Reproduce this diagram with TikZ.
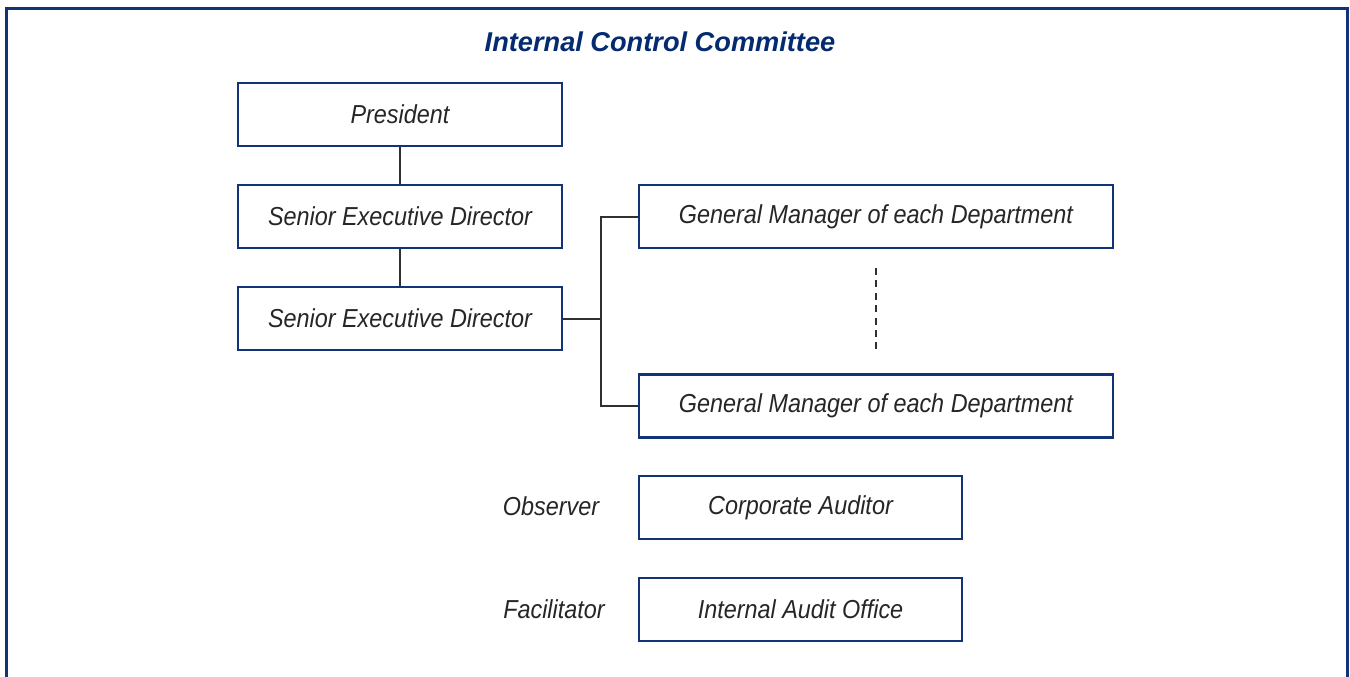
\documentclass[tikz,border=0pt]{standalone}
\usepackage{fontspec}
\setmainfont{Liberation Sans}[FakeStretch=0.9]
\newfontfamily\titlefont{Liberation Sans}
\usepackage{tikz}
\usetikzlibrary{positioning}
\definecolor{navy}{RGB}{18,52,118}
\definecolor{titleblue}{RGB}{4,42,112}
\definecolor{ink}{RGB}{38,38,40}
\definecolor{wire}{RGB}{48,48,50}

\begin{document}
\begin{tikzpicture}[x=0.5pt, y=-0.5pt,
    frame/.style={draw=navy, line width=1.5pt},
    post/.style={draw=navy, line width=1.2pt, fill=white, font=\fontsize{13}{15}\selectfont\itshape,
                 text=ink, minimum width=162pt, minimum height=31.5pt, inner sep=0pt},
    postw/.style={post, minimum width=237pt},
    role/.style={font=\fontsize{13}{15}\selectfont\itshape, text=ink},
    head/.style={font=\titlefont\fontsize{13.6}{16}\selectfont\bfseries\itshape, text=titleblue},
    link/.style={draw=wire, line width=1pt},
    gap/.style={draw=wire, line width=1pt, dash pattern=on 3.5pt off 2.7pt}
  ]
  \useasboundingbox (0,0) rectangle (1350,676);
  \draw[frame] (6.5,700) -- (6.5,8.5) -- (1347.5,8.5) -- (1347.5,700);
  \node[head] (title) at (660,42) {Internal Control Committee};

  \def\ya{114.5} \def\yb{216.5} \def\yc{318.5} \def\yd{406} \def\ye{507.5} \def\yf{609.5}
  \node[post] (pres) at (400,\ya) {President};
  \node[post] (sed1) at (400,\yb) {Senior Executive Director};
  \node[post] (sed2) at (400,\yc) {Senior Executive Director};
  \node[postw] (gm1) at (876,\yb) {General Manager of each Department};
  \node[postw] (gm2) at (876,\yd) {General Manager of each Department};
  \node[post, minimum width=161.5pt] (aud) at (800.5,\ye) {Corporate Auditor};
  \node[post, minimum width=161.5pt] (iao) at (800.5,\yf) {Internal Audit Office};
  \node[role] (obs) at (551,506) {Observer};
  \node[role] (fac) at (554,609) {Facilitator};

  \coordinate (bus) at (601,\yc);
  \coordinate (gaptop) at (876,268);
  \coordinate (gapbot) at (876,352);

  \draw[link] (pres) -- (sed1);
  \draw[link] (sed1) -- (sed2);
  \draw[link] (sed2) -- (bus);
  \draw[link] (gm1.west) -| (bus) |- (gm2.west);
  \draw[gap] (gaptop) -- (gapbot);
\end{tikzpicture}
\end{document}
